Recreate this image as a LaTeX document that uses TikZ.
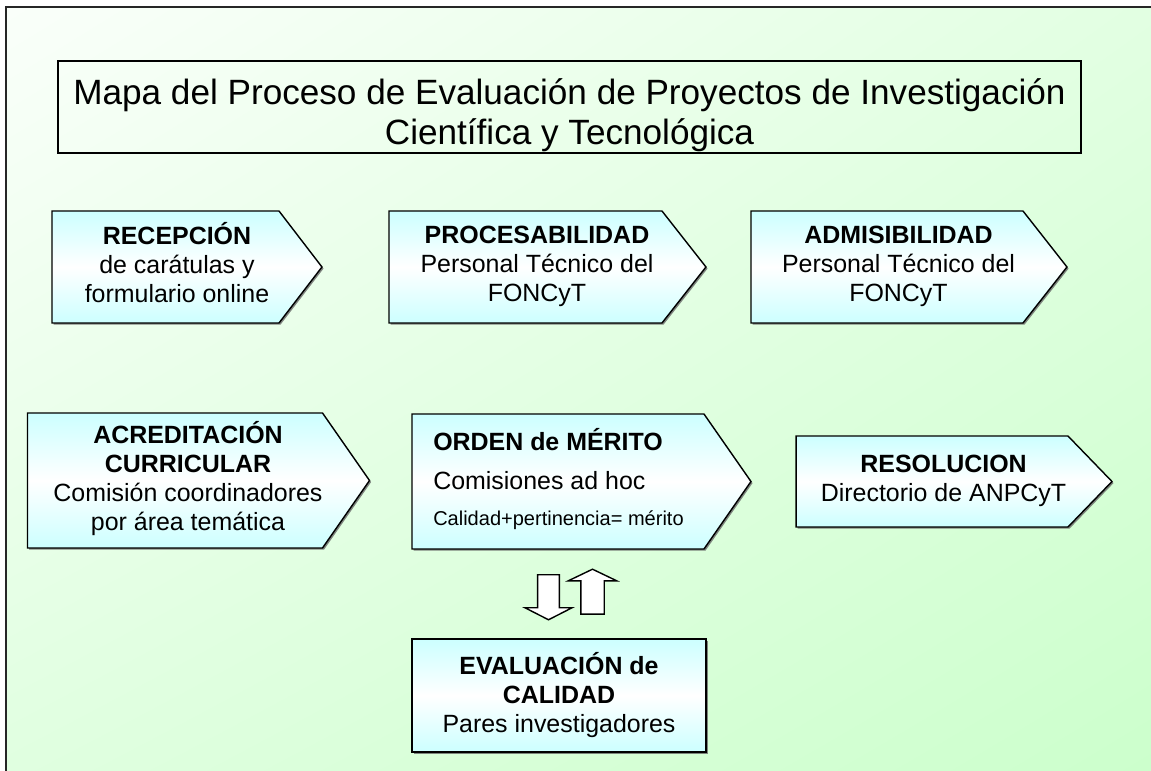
\documentclass[tikz,border=0pt]{standalone}
\usepackage{fontspec}
\setmainfont{Liberation Sans}
\usetikzlibrary{shapes.symbols, shapes.arrows, shadows, shadings}

\definecolor{fondoA}{RGB}{250,255,250}
\definecolor{fondoB}{RGB}{226,255,226}
\definecolor{fondoC}{RGB}{224,255,224}
\definecolor{fondoD}{RGB}{204,255,204}

\tikzset{
  caja/.style={draw=black, line width=0.8pt, inner sep=0pt,
    top color=cyan!20, bottom color=cyan!20, middle color=white,
    drop shadow={shadow xshift=0.9pt, shadow yshift=-0.9pt, fill=black!60, opacity=0.8},
    font=\fontsize{14.2}{16.5}\selectfont},
  paso/.style={caja, signal, signal to=east},
  flechablanca/.style={single arrow, draw=black, fill=white, line width=0.8pt,
    single arrow head indent=0pt, minimum height=0.9cm}
}

\begin{document}
\begin{tikzpicture}[x=0.02cm, y=-0.02cm]
  \clip (0,0) rectangle (1151,770);
  \shade[upper left=fondoA, upper right=fondoB, lower left=fondoC, lower right=fondoD]
    (6,7) rectangle (1151,770);
  \draw[line width=1pt, black!85] (6,7) rectangle (1200,820);

  \node (titulo) [draw, line width=0.8pt, inner sep=0pt, minimum width=20.46cm,
    text height=1.68cm, text depth=0.16cm, align=center,
    font=\fontsize{20}{23.3}\selectfont] at (569.5,107)
    {Mapa del Proceso de Evaluación de Proyectos de Investigación\\Científica y Tecnológica};

  \node (recepcion) [paso, signal pointer angle=105, minimum width=5.40cm, minimum height=2.24cm] at (165.5,267)
    {\hspace*{0.46cm}\begin{tabular}{@{}c@{}}\textbf{RECEPCIÓN}\\de carátulas y\\formulario online\end{tabular}};
  \node (procesabilidad) [paso, signal pointer angle=103.7, minimum width=6.34cm, minimum height=2.24cm] at (525.5,267)
    {\hspace*{0.46cm}\begin{tabular}{@{}c@{}}\textbf{PROCESABILIDAD}\\Personal Técnico del\\FONCyT\end{tabular}};
  \node (admisibilidad) [paso, signal pointer angle=103.7, minimum width=6.32cm, minimum height=2.24cm] at (887,267)
    {\hspace*{0.46cm}\begin{tabular}{@{}c@{}}\textbf{ADMISIBILIDAD}\\Personal Técnico del\\FONCyT\end{tabular}};

  \node (acreditacion) [paso, signal pointer angle=110.3, minimum width=6.78cm, minimum height=2.70cm] at (175,480.5)
    {\hspace*{0.52cm}\begin{tabular}{@{}c@{}}\textbf{ACREDITACIÓN}\\\textbf{CURRICULAR}\\Comisión coordinadores\\por área temática\end{tabular}};
  \node (orden) [paso, signal pointer angle=110.3, minimum width=6.78cm, minimum height=2.70cm] at (558,481.5)
    {\hspace*{0.02cm}\begin{tabular}{@{}l@{}}\textbf{ORDEN de MÉRITO}\\[5.7pt]Comisiones ad hoc\\[4pt]{\fontsize{11.4}{13}\selectfont Calidad+pertinencia= mérito}\end{tabular}};
  \node (resolucion) [paso, signal pointer angle=91.9, minimum width=6.32cm, minimum height=1.82cm] at (932,481.5)
    {\hspace*{0.46cm}\begin{tabular}{@{}c@{}}\textbf{RESOLUCION}\\Directorio de ANPCyT\end{tabular}};

  \node (evaluacion) [caja, rectangle, minimum width=5.88cm, minimum height=2.26cm, align=center] at (559,695.5)
    {\textbf{EVALUACIÓN de}\\\textbf{CALIDAD}\\Pares investigadores};

  \node (bajar) [flechablanca, shape border rotate=270, inner sep=0.2cm, minimum width=0.94cm,
    single arrow tip angle=126] at (548.5,594.5) {};
  \node (subir) [flechablanca, shape border rotate=90, inner sep=0.22cm, minimum width=0.92cm,
    single arrow tip angle=128.8] at (592.5,594.5) {};
\end{tikzpicture}
\end{document}
